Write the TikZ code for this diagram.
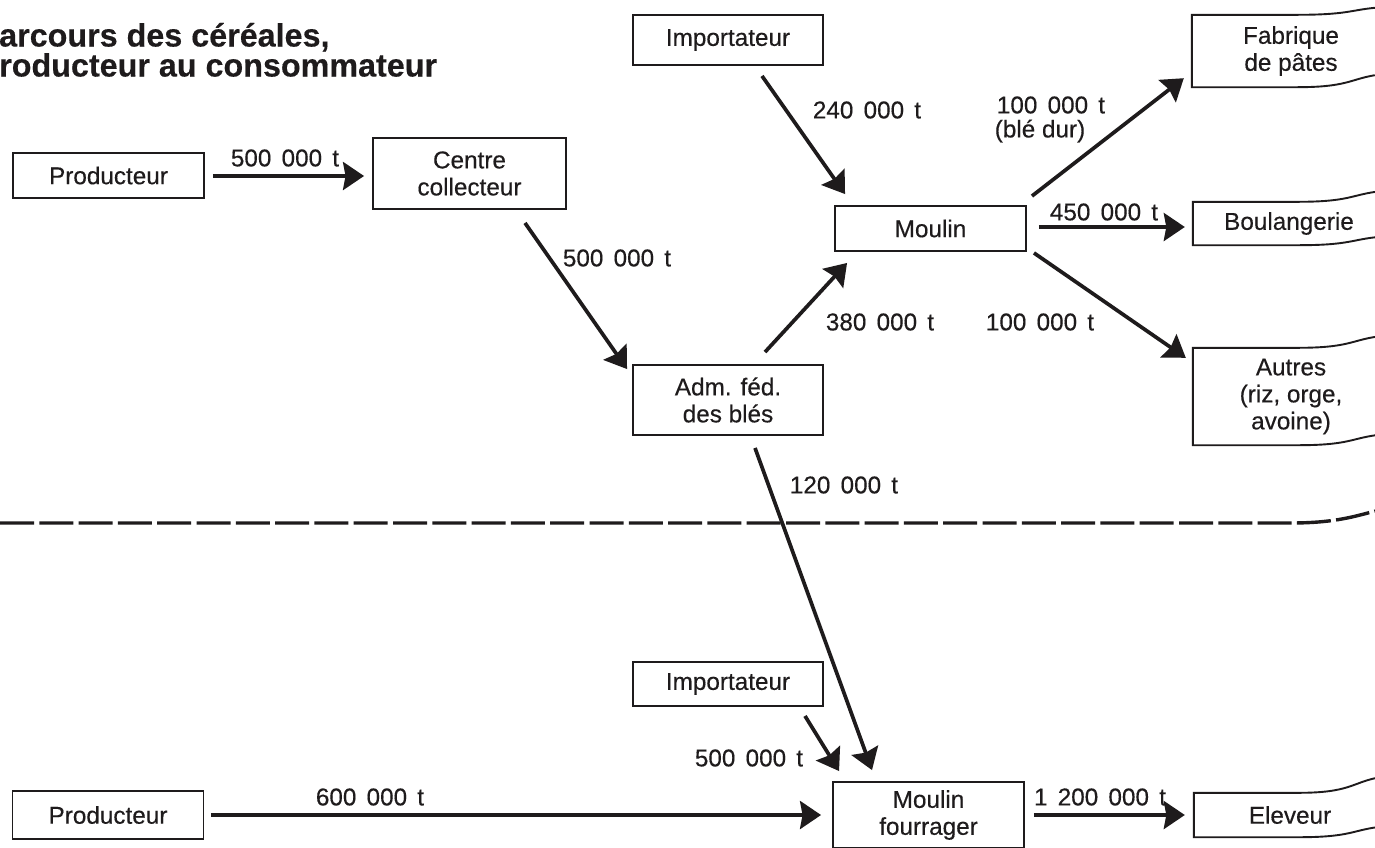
\documentclass[tikz,border=0pt]{standalone}
\usepackage{fontspec}
\setmainfont{Liberation Sans}[FakeBold=0.35]
\newfontfamily\titlefont{Liberation Sans Bold}[FakeBold=0.3]
\usetikzlibrary{arrows.meta,calc}
\definecolor{ink}{RGB}{30,27,28}
\newcommand{\lblfont}{\fontsize{24.3}{27}\selectfont}
\newcommand{\ns}{\hspace{0.42em}}
\newcommand{\drawscroll}[3]{%
  \draw[boxline] ($(#1.north west)+(183,-#2)$) .. controls +(-25,{0.35*#2}) and +(50,0) .. ($(#1.north west)+(105,0)$) -- (#1.north west) -- (#1.south west) -- ($(#1.south west)+(105,0)$) .. controls +(50,0) and +(-25,{0.35*#3}) .. ($(#1.south west)+(183,-#3)$);
}
\tikzset{
  boxline/.style={draw=ink, line width=1.9pt, line join=miter},
  box/.style={draw=ink, line width=1.9pt, inner sep=0pt, align=center, font=\lblfont, text=ink},
  scroll/.style={inner sep=0pt, align=center, font=\lblfont, text=ink},
  lbl/.style={inner sep=0pt, font=\lblfont, text=ink},
  ttl/.style={inner sep=0pt, font=\titlefont\fontsize{32.3}{29}\selectfont, text=ink, anchor=base west},
  arr/.style={draw=ink, line width=3.7pt, -{Stealth[length=21pt,width=28pt,inset=2.5pt]}},
  divider/.style={draw=ink, line width=3.4pt, dash pattern=on 34pt off 5.3pt}
}
\begin{document}
\begin{tikzpicture}[x=1pt,y=-1pt]
\path[use as bounding box, fill=white] (0,0) rectangle (1375,847);
\clip (0,0) rectangle (1375,847);

% title
\node[ttl] (title) at (-1,46.5) {\vtop{\baselineskip=30pt\hbox{arcours des céréales,}\hbox{roducteur au consommateur}}};

% boxes
\node[box, minimum width=191pt, minimum height=45pt] (prod1) at (108.5,175.5) {Producteur};
\node[box, minimum width=193pt, minimum height=71pt] (centre) at (469.5,173.5) {Centre\\collecteur};
\node[box, minimum width=190pt, minimum height=50pt] (imp1) at (728,40) {Importateur};
\node[box, minimum width=191pt, minimum height=45pt] (moulin) at (930.5,228.5) {Moulin};
\node[box, minimum width=190pt, minimum height=70pt] (adm) at (728,400) {Adm. féd.\\des blés};
\node[box, minimum width=190pt, minimum height=44pt] (imp2) at (728,684) {Importateur};
\node[box, minimum width=191pt, minimum height=48pt] (prod2) at (108,815) {Producteur};
\node[box, minimum width=191pt, minimum height=66pt] (mf) at (928.5,815) {Moulin\\fourrager};

% open (scroll) boxes on the right
\node[scroll, minimum width=198pt, minimum height=72pt] (fab) at (1291,51) {Fabrique\\de pâtes};
\node[scroll, minimum width=192pt, minimum height=43pt] (boul) at (1289,223.5) {Boulangerie};
\node[scroll, minimum width=196pt, minimum height=97pt] (autres) at (1291,396.5) {Autres\\(riz, orge,\\avoine)};
\node[scroll, minimum width=192pt, minimum height=44pt] (elev) at (1290,815) {Eleveur};
\drawscroll{fab}{7}{12}
\drawscroll{boul}{10}{8}
\drawscroll{autres}{11}{10}
\drawscroll{elev}{15}{10}

% dashed divider
\coordinate (dl) at (0,523);
\coordinate (dr) at (1375,511);
\draw[divider] (dl) -- (1290,523) .. controls (1330,523) and (1350,518) .. (dr);

% arrows
\draw[arr] ($(prod1.east)+(8,0.5)$) -- ($(centre.west)+(-8,2.5)$);
\draw[arr] ($(centre.south)+(55.5,13)$) -- ($(adm.north west)+(-5,5)$);
\draw[arr] ($(adm.north)+(37,-12)$) -- ($(moulin.south west)+(13,11)$);
\draw[arr] ($(imp1.south)+(34,10)$) -- ($(moulin.north west)+(11,-11)$);
\draw[arr] ($(moulin.north east)+(5,-9)$) -- ($(fab.south west)+(-8,-9)$);
\draw[arr] ($(moulin.east)+(12,-1.5)$) -- ($(boul.west)+(-8,3.5)$);
\draw[arr] ($(moulin.south east)+(7,1)$) -- ($(autres.north west)+(-7,10)$);
\draw[arr] ($(adm.south)+(27,12)$) -- ($(mf.north)+(-56.5,-11)$);
\draw[arr] ($(imp2.south)+(77,9)$) -- ($(mf.north west)+(7,-10)$);
\draw[arr] ($(prod2.east)+(6.5,0)$) -- ($(mf.west)+(-11,0)$);
\draw[arr] ($(mf.east)+(9,0)$) -- ($(elev.west)+(-9,0)$);

% labels
\node[lbl] (l1) at (285,158) {500\ns000\ns t};
\node[lbl] (l2) at (617,258) {500\ns000\ns t};
\node[lbl] (l3) at (867,110) {240\ns000\ns t};
\node[lbl] (l4) at (1051,105) {100\ns000\ns t};
\node[lbl] (l4b) at (1040,131) {(blé dur)};
\node[lbl] (l5) at (1104,212) {450\ns000\ns t};
\node[lbl] (l6) at (880,322) {380\ns000\ns t};
\node[lbl] (l7) at (1040,322) {100\ns000\ns t};
\node[lbl] (l8) at (844,485) {120\ns000\ns t};
\node[lbl] (l9) at (749,758) {500\ns000\ns t};
\node[lbl] (l10) at (370,797) {600\ns000\ns t};
\node[lbl] (l11) at (1100,797) {1\ns200\ns000\ns t};
\end{tikzpicture}
\end{document}
